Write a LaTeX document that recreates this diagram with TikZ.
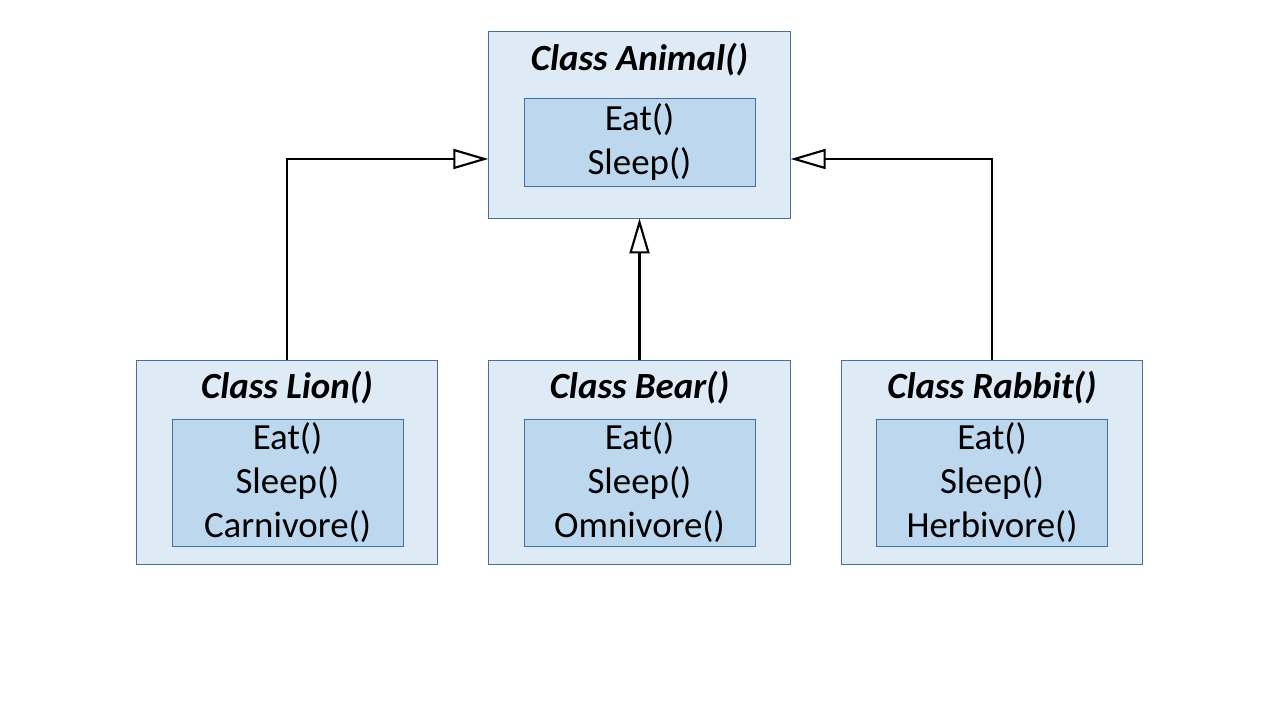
\documentclass[tikz,border=0pt]{standalone}
\usepackage{fontspec}
\setmainfont{Carlito}
\usepackage{tikz}
\usetikzlibrary{arrows.meta,positioning,calc}
\definecolor{outerfill}{HTML}{DEEBF7}
\definecolor{innerfill}{HTML}{BDD7EE}
\definecolor{edgeblue}{HTML}{41719C}

\begin{document}
\begin{tikzpicture}[
    classbox/.style={draw=edgeblue, line width=0.5pt, fill=outerfill, minimum width=6.03cm},
    methods/.style={draw=edgeblue, line width=0.5pt, fill=innerfill, minimum width=4.62cm, align=center, font=\fontsize{21}{25}\selectfont, inner sep=0pt},
    classname/.style={font=\fontsize{21}{25}\selectfont\bfseries\itshape, inner sep=0pt},
    arr/.style={-{Triangle[open, length=0.7cm, width=0.4cm]}, line width=1.2pt}
]
\useasboundingbox (0,0) rectangle (25.6,14.4);

% parent class
\node[classbox, minimum height=3.74cm] (animal) at (12.79,11.91) {};
\node[classname] (animalname) at (12.79,13.2) {Class Animal()};
\node[methods, minimum height=1.76cm] (animalm) at (12.79,11.56) {Eat()\\Sleep()};

% child classes
\node[classbox, minimum height=4.08cm] (lion) at (5.74,5.16) {};
\node[classname] (lionname) at (5.74,6.64) {Class Lion()};
\node[methods, minimum height=2.54cm] (lionm) at (5.75,4.75) {Eat()\\Sleep()\\Carnivore()};

\node[classbox, minimum height=4.08cm] (bear) at (12.79,5.16) {};
\node[classname] (bearname) at (12.79,6.64) {Class Bear()};
\node[methods, minimum height=2.54cm] (bearm) at (12.79,4.75) {Eat()\\Sleep()\\Omnivore()};

\node[classbox, minimum height=4.08cm] (rabbit) at (19.84,5.16) {};
\node[classname] (rabbitname) at (19.84,6.64) {Class Rabbit()};
\node[methods, minimum height=2.54cm] (rabbitm) at (19.84,4.75) {Eat()\\Sleep()\\Herbivore()};

% inheritance
\draw[arr] (lion.north) |- ([yshift=-0.69cm]animal.west);
\draw[arr] (bear.north) -- (animal.south);
\draw[arr] (rabbit.north) |- ([yshift=-0.69cm]animal.east);
\end{tikzpicture}
\end{document}
